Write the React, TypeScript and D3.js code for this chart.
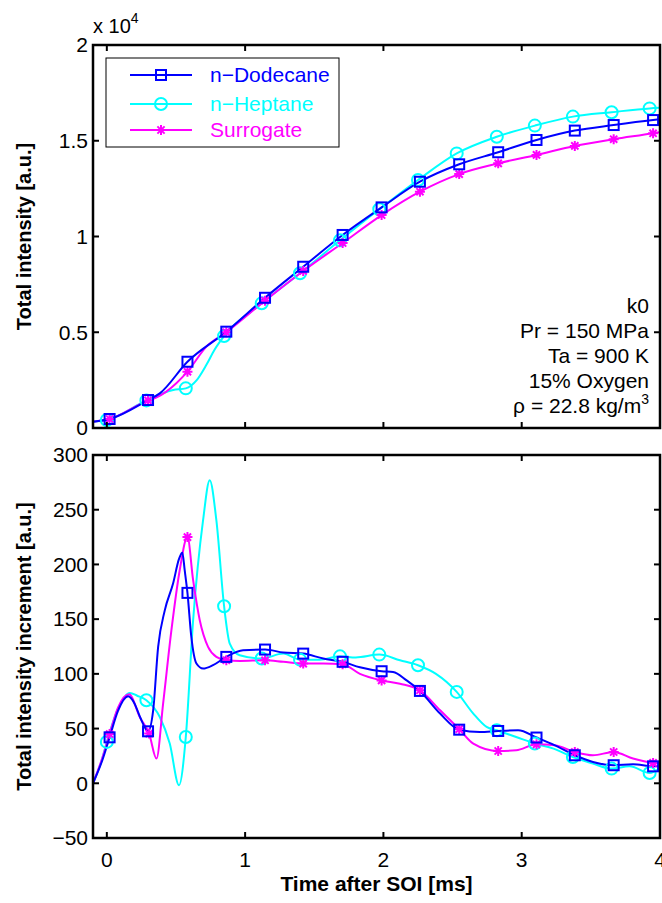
import React from "react";
import * as d3 from "d3";

// ---------- data ----------
// [time ms, value, marker flag]
type P = [number, number, number?];

const seriesNames = ["n\u2212Dodecane", "n\u2212Heptane", "Surrogate"];
const seriesColors = ["#0000ff", "#00ffff", "#ff00ff"];
const seriesMarkers = ["square", "circle", "star"];

const xTicks = [0, 1, 2, 3, 4];
const topYTicks = [0, 5000, 10000, 15000, 20000];
const topYTickLabels = ["0", "0.5", "1", "1.5", "2"];
const botYTicks = [-50, 0, 50, 100, 150, 200, 250, 300];
const botYTickLabels = ["\u221250", "0", "50", "100", "150", "200", "250", "300"];

const annotationLines = ["k0", "Pr = 150 MPa", "Ta = 900 K", "15% Oxygen"];

// Top: total intensity
const dodecaneTotal: P[] = [
  [-0.1, 330], [0.02, 470, 1], [0.298, 1460, 1], [0.383, 1810], [0.583, 3460, 1],
  [0.864, 5030, 1], [1.144, 6800, 1], [1.42, 8420, 1], [1.705, 10080, 1],
  [1.987, 11520, 1], [2.264, 12860, 1], [2.548, 13770, 1], [2.83, 14400, 1],
  [3.107, 15040, 1], [3.384, 15530, 1], [3.665, 15820, 1], [3.95, 16080, 1], [4.0, 16120],
];
const heptaneTotal: P[] = [
  [-0.1, 330], [0.0, 420, 1], [0.286, 1440, 1], [0.4, 1800], [0.48, 1980],
  [0.571, 2070, 1], [0.65, 2500], [0.72, 3300], [0.78, 4100], [0.848, 4800, 1],
  [1.12, 6510, 1], [1.397, 8080, 1], [1.686, 9800, 1], [1.97, 11420, 1],
  [2.25, 12950, 1], [2.53, 14340, 1], [2.82, 15210, 1], [3.095, 15790, 1],
  [3.37, 16260, 1], [3.65, 16490, 1], [3.925, 16690, 1], [4.0, 16720],
];
const surrogateTotal: P[] = [
  [-0.1, 330], [0.02, 470, 1], [0.298, 1440, 1], [0.36, 1600], [0.43, 1900],
  [0.583, 2940, 1], [0.72, 4250], [0.864, 5000, 1], [1.144, 6650, 1], [1.42, 8200, 1],
  [1.705, 9660, 1], [1.987, 11120, 1], [2.264, 12340, 1], [2.548, 13260, 1],
  [2.83, 13820, 1], [3.107, 14260, 1], [3.384, 14730, 1], [3.665, 15080, 1],
  [3.95, 15390, 1], [4.0, 15450],
];

// Bottom: total intensity increment
const dodecaneIncr: P[] = [
  [-0.1, 0], [-0.03, 22], [0.02, 42, 1], [0.08, 66], [0.154, 79.5], [0.2, 73],
  [0.24, 60.6], [0.298, 47.5, 1], [0.335, 66.7], [0.371, 124.6], [0.419, 158],
  [0.479, 182.5], [0.522, 205], [0.546, 211], [0.563, 194.7], [0.583, 174, 1],
  [0.611, 133.7], [0.648, 109.4], [0.696, 104.8], [0.768, 107.9], [0.864, 115.5, 1],
  [0.985, 121.6], [1.144, 122.2, 1], [1.276, 119.5], [1.42, 118.5, 1], [1.565, 114],
  [1.705, 111, 1], [1.83, 106], [1.987, 102.4, 1], [2.07, 101.7], [2.168, 94],
  [2.264, 84.4, 1], [2.41, 63.7], [2.548, 49, 1], [2.697, 46.9], [2.83, 47.8, 1],
  [2.974, 48.4], [3.107, 41.8, 1], [3.24, 34.7], [3.384, 25.6, 1], [3.515, 19.5],
  [3.665, 16.5, 1], [3.805, 17.4], [3.95, 15.5, 1], [4.0, 15.5],
];
const heptaneIncr: P[] = [
  [-0.1, 0], [-0.04, 20], [0.0, 37.8, 1], [0.08, 68], [0.166, 82.6], [0.22, 80],
  [0.286, 75.9, 1], [0.383, 60.6], [0.455, 36.3], [0.522, -1.8], [0.571, 42.3, 1],
  [0.624, 149], [0.696, 240.4], [0.744, 277], [0.792, 240.4], [0.848, 161.8, 1],
  [0.889, 127.7], [0.961, 117], [1.12, 114, 1], [1.276, 118.5], [1.397, 113, 1],
  [1.54, 113], [1.686, 116, 1], [1.8, 115], [1.97, 117.6, 1], [2.12, 112.4],
  [2.25, 107.9, 1], [2.38, 100], [2.53, 83.5, 1], [2.65, 63.7], [2.746, 51.5],
  [2.82, 48.4, 1], [2.96, 42.3], [3.095, 36.3, 1], [3.23, 31.7], [3.37, 24, 1],
  [3.515, 18], [3.65, 13.4, 1], [3.78, 15.5], [3.925, 9.4, 1], [4.0, 14],
];
const surrogateIncr: P[] = [
  [-0.1, 0], [-0.03, 24], [0.02, 45, 1], [0.08, 69], [0.161, 81.4], [0.24, 60],
  [0.306, 45.4, 1], [0.359, 22.6], [0.407, 72.8], [0.467, 139.9], [0.527, 194.7],
  [0.583, 225, 1], [0.624, 185.6], [0.672, 149], [0.732, 124.6], [0.792, 115.5],
  [0.864, 112.4, 1], [0.963, 111.8], [1.144, 112.4, 1], [1.276, 111], [1.42, 109.4, 1],
  [1.565, 109.4], [1.705, 108.8, 1], [1.83, 100], [1.987, 94, 1], [2.12, 91],
  [2.264, 85, 1], [2.41, 66.7], [2.548, 49.5, 1], [2.65, 36.3], [2.83, 29.5, 1],
  [2.96, 30.2], [3.107, 35.6, 1], [3.24, 34.7], [3.384, 28.6, 1], [3.515, 25.6],
  [3.665, 28.6, 1], [3.805, 22.6], [3.95, 18.6, 1], [4.0, 18],
];

const topSeries = [dodecaneTotal, heptaneTotal, surrogateTotal];
const botSeries = [dodecaneIncr, heptaneIncr, surrogateIncr];
const drawOrder = [1, 2, 0];

// ---------- layout ----------
const W = 662;
const H = 903;
const FONT = "'Liberation Sans', Arial, Helvetica, sans-serif";
const FS = 21;
const left = 93;
const right = 660;
const top1 = 45, bot1 = 428;
const top2 = 455, bot2 = 838;

const x = d3.scaleLinear().domain([-0.1, 4]).range([left, right]);
const yTop = d3.scaleLinear().domain([0, 20000]).range([bot1, top1]);
const yBot = d3.scaleLinear().domain([-50, 300]).range([bot2, top2]);

function Marker({ kind, cx, cy, color }: { kind: string; cx: number; cy: number; color: string }) {
  if (kind === "square")
    return <rect x={cx - 5} y={cy - 5} width={10} height={10} fill="none" stroke={color} strokeWidth={2} />;
  if (kind === "circle") return <circle cx={cx} cy={cy} r={6} fill="none" stroke={color} strokeWidth={2} />;
  const r = 5, d = 3.6;
  return (
    <path
      d={`M${cx - r},${cy}H${cx + r}M${cx},${cy - r}V${cy + r}M${cx - d},${cy - d}L${cx + d},${cy + d}M${cx - d},${cy + d}L${cx + d},${cy - d}`}
      stroke={color}
      strokeWidth={2}
      fill="none"
    />
  );
}

function Panel({ id, series, y, yTicks, yLabels, yTitle, top, bottom, showX }: any) {
  const line = d3
    .line<P>()
    .x((d) => x(d[0]))
    .y((d) => y(d[1]))
    .curve(d3.curveMonotoneX);
  const tl = 6;
  return (
    <g>
      <defs>
        <clipPath id={id}>
          <rect x={left} y={top} width={right - left} height={bottom - top} />
        </clipPath>
      </defs>
      <rect x={left} y={top} width={right - left} height={bottom - top} fill="#fff" />
      <g clipPath={`url(#${id})`}>
        {drawOrder.map((i) => (
          <path key={i} d={line(series[i]) || ""} fill="none" stroke={seriesColors[i]} strokeWidth={2} />
        ))}
      </g>
      {drawOrder.map((i) => (
        <g key={"m" + i}>
          {series[i]
            .filter((d: P) => d[2])
            .map((d: P, j: number) => (
              <Marker key={j} kind={seriesMarkers[i]} cx={x(d[0])} cy={y(d[1])} color={seriesColors[i]} />
            ))}
        </g>
      ))}
      {/* ticks */}
      {xTicks.map((t) => (
        <g key={"xt" + t}>
          <line x1={x(t)} x2={x(t)} y1={bottom} y2={bottom - tl} stroke="#000" strokeWidth={2} />
          <line x1={x(t)} x2={x(t)} y1={top} y2={top + tl} stroke="#000" strokeWidth={2} />
          {showX && (
            <text x={x(t)} y={bottom + 29} fontSize={FS} fontFamily={FONT} textAnchor="middle">
              {t}
            </text>
          )}
        </g>
      ))}
      {yTicks.map((t: number, k: number) => (
        <g key={"yt" + t}>
          <line x1={left} x2={left + tl} y1={y(t)} y2={y(t)} stroke="#000" strokeWidth={2} />
          <line x1={right} x2={right - tl} y1={y(t)} y2={y(t)} stroke="#000" strokeWidth={2} />
          <text x={left - 5} y={y(t)} dy="0.35em" fontSize={FS} fontFamily={FONT} textAnchor="end">
            {yLabels[k]}
          </text>
        </g>
      ))}
      <rect x={left} y={top} width={right - left} height={bottom - top} fill="none" stroke="#000" strokeWidth={2.5} />
      <text
        transform={`translate(${31},${(top + bottom) / 2}) rotate(-90)`}
        fontSize={FS - 1}
        fontWeight="bold"
        fontFamily={FONT}
        textAnchor="middle"
      >
        {yTitle}
      </text>
    </g>
  );
}

export default function App() {
  const legX = 106, legY = 58, legW = 233, legH = 89;
  const legRows = [75, 104, 130];
  return (
    <svg width={W} height={H} style={{ position: "absolute", left: 0, top: 0, background: "#fff" }}>
      <rect width={W} height={H} fill="#fff" />
      <Panel
        id="c1"
        series={topSeries}
        y={yTop}
        yTicks={topYTicks}
        yLabels={topYTickLabels}
        yTitle="Total intensity [a.u.]"
        top={top1}
        bottom={bot1}
        showX={false}
      />
      <Panel
        id="c2"
        series={botSeries}
        y={yBot}
        yTicks={botYTicks}
        yLabels={botYTickLabels}
        yTitle="Total intensity increment [a.u.]"
        top={top2}
        bottom={bot2}
        showX={true}
      />
      {/* exponent */}
      <text x={93} y={33} fontSize={FS - 1} fontFamily={FONT}>
        x 10
        <tspan dy={-10} fontSize={14}>
          4
        </tspan>
      </text>
      {/* legend */}
      <rect x={legX} y={legY} width={legW} height={legH} fill="#fff" stroke="#000" strokeWidth={1} />
      {seriesNames.map((n, i) => (
        <g key={n}>
          <line x1={130} x2={192} y1={legRows[i]} y2={legRows[i]} stroke={seriesColors[i]} strokeWidth={2} />
          <Marker kind={seriesMarkers[i]} cx={161} cy={legRows[i]} color={seriesColors[i]} />
          <text x={210} y={legRows[i]} dy="0.35em" fontSize={FS} fontFamily={FONT} fill={seriesColors[i]}>
            {n}
          </text>
        </g>
      ))}
      {/* annotation */}
      {annotationLines.map((s, i) => (
        <text key={s} x={649} y={313 + i * 25} fontSize={FS} fontFamily={FONT} textAnchor="end">
          {s}
        </text>
      ))}
      <text x={649} y={413} fontSize={FS} fontFamily={FONT} textAnchor="end">
        ρ = 22.8 kg/m
        <tspan dy={-9} fontSize={14}>
          3
        </tspan>
      </text>
      {/* x label */}
      <text x={(left + right) / 2} y={891} fontSize={FS} fontWeight="bold" fontFamily={FONT} textAnchor="middle">
        Time after SOI [ms]
      </text>
    </svg>
  );
}
